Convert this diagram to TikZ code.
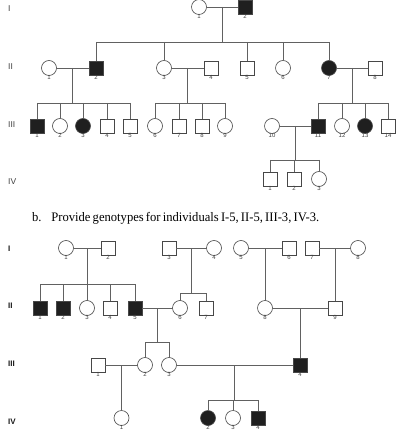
\documentclass[tikz,border=0pt]{standalone}
\usepackage{fontspec}
\setmainfont{Liberation Serif}
\setsansfont{Liberation Sans}
\usetikzlibrary{calc}

\begin{document}
\begin{tikzpicture}[
  x=1pt,y=-1pt,
  every label/.style={
    font=\sffamily\fontsize{6}{6}\selectfont,
    text=black!75,
    inner sep=0pt
  },
  person/.style={
    draw=black!72,
    line width=0.6pt,
    inner sep=0pt,
    outer sep=0pt,
    label distance=2pt
  },
  male/.style={
    person,
    rectangle,
    minimum size=14pt
  },
  female/.style={
    person,
    circle,
    minimum size=15pt
  },
  affected/.style={
    fill=black!88
  },
  family line/.style={
    draw=black!62,
    line width=0.6pt
  },
  generation/.style={
    anchor=west,
    inner sep=0pt,
    font=\sffamily\fontsize{8.5}{8.5}\selectfont,
    text=black!75
  },
  bold generation/.style={
    generation,
    font=\sffamily\bfseries\fontsize{8}{8}\selectfont,
    text=black!90
  }
]
\useasboundingbox (0,0) rectangle (403,435);

% ---------- pedigree a ----------
\node[generation] (aGenI) at (8,9) {I};
\node[generation] (aGenII) at (8,67) {II};
\node[generation] (aGenIII) at (8,125) {III};
\node[generation] (aGenIV) at (8,182) {IV};

\node[female,label=below:1] (aI1) at (199,7) {};
\node[male,affected,label=below:2] (aI2) at (245,7) {};

\node[female,label=below:1] (aII1) at (49,68) {};
\node[male,affected,label=below:2] (aII2) at (96,68) {};
\node[female,label=below:3] (aII3) at (164,68) {};
\node[male,label=below:4] (aII4) at (211,68) {};
\node[male,label=below:5] (aII5) at (247,68) {};
\node[female,label=below:6] (aII6) at (283,68) {};
\node[female,affected,label=below:7] (aII7) at (329,68) {};
\node[male,label=below:8] (aII8) at (375,68) {};

\node[male,affected,label=below:1] (aIII1) at (37,126) {};
\node[female,label=below:2] (aIII2) at (60,126) {};
\node[female,affected,label=below:3] (aIII3) at (83,126) {};
\node[male,label=below:4] (aIII4) at (107,126) {};
\node[male,label=below:5] (aIII5) at (130,126) {};
\node[female,label=below:6] (aIII6) at (155,126) {};
\node[male,label=below:7] (aIII7) at (179,126) {};
\node[male,label=below:8] (aIII8) at (202,126) {};
\node[female,label=below:9] (aIII9) at (225,126) {};
\node[female,label=below:10] (aIII10) at (272,126) {};
\node[male,affected,label=below:11] (aIII11) at (318,126) {};
\node[female,label=below:12] (aIII12) at (342,126) {};
\node[female,affected,label=below:13] (aIII13) at (365,126) {};
\node[male,label=below:14] (aIII14) at (388,126) {};

\node[male,label=below:1] (aIV1) at (270,179) {};
\node[male,label=below:2] (aIV2) at (294,179) {};
\node[female,label=below:3] (aIV3) at (319,179) {};

% matings and sibships
\draw[family line] (aI1) -- (aI2);
\coordinate (aM1) at ($(aI1)!0.5!(aI2)$);
\coordinate (aS1) at ($(aM1)+(0,35)$);
\draw[family line] (aM1) -- (aS1);
\draw[family line] (aII2 |- aS1) -- (aII7 |- aS1);
\foreach \kid in {aII2,aII3,aII5,aII6,aII7}
  \draw[family line] (\kid |- aS1) -- (\kid);

\draw[family line] (aII1) -- (aII2);
\coordinate (aM2) at ($(aII1)!0.5!(aII2)$);
\coordinate (aS2) at ($(aM2)+(0,35)$);
\draw[family line] (aM2) -- (aS2);
\draw[family line] (aIII1 |- aS2) -- (aIII5 |- aS2);
\foreach \kid in {aIII1,aIII2,aIII3,aIII4,aIII5}
  \draw[family line] (\kid |- aS2) -- (\kid);

\draw[family line] (aII3) -- (aII4);
\coordinate (aM3) at ($(aII3)!0.5!(aII4)$);
\coordinate (aS3) at ($(aM3)+(0,35)$);
\draw[family line] (aM3) -- (aS3);
\draw[family line] (aIII6 |- aS3) -- (aIII9 |- aS3);
\foreach \kid in {aIII6,aIII7,aIII8,aIII9}
  \draw[family line] (\kid |- aS3) -- (\kid);

\draw[family line] (aII7) -- (aII8);
\coordinate (aM4) at ($(aII7)!0.5!(aII8)$);
\coordinate (aS4) at ($(aM4)+(0,35)$);
\draw[family line] (aM4) -- (aS4);
\draw[family line] (aIII11 |- aS4) -- (aIII14 |- aS4);
\foreach \kid in {aIII11,aIII12,aIII13,aIII14}
  \draw[family line] (\kid |- aS4) -- (\kid);

\draw[family line] (aIII10) -- (aIII11);
\coordinate (aM5) at ($(aIII10)!0.5!(aIII11)$);
\coordinate (aS5) at ($(aM5)+(0,34)$);
\draw[family line] (aM5) -- (aS5);
\draw[family line] (aIV1 |- aS5) -- (aIV3 |- aS5);
\foreach \kid in {aIV1,aIV2,aIV3}
  \draw[family line] (\kid |- aS5) -- (\kid);

% ---------- question ----------
\node[anchor=base west,inner sep=0pt,xscale=0.97,
  font=\fontsize{13}{14}\selectfont] (question) at (32,222)
  {\spaceskip=2.2pt\relax b.\hspace{10pt}Provide genotypes for individuals I-5, II-5, III-3, IV-3.};

% ---------- pedigree b ----------
\node[bold generation] (bGenI) at (8,249) {I};
\node[bold generation] (bGenII) at (8,306) {II};
\node[bold generation] (bGenIII) at (8,364) {III};
\node[bold generation] (bGenIV) at (8,422) {IV};

\node[female,label=below:1] (bI1) at (66,248) {};
\node[male,label=below:2] (bI2) at (108,248) {};
\node[male,label=below:3] (bI3) at (169,248) {};
\node[female,label=below:4] (bI4) at (214,248) {};
\node[female,label=below:5] (bI5) at (241,248) {};
\node[male,label=below:6] (bI6) at (289,248) {};
\node[male,label=below:7] (bI7) at (312,248) {};
\node[female,label=below:8] (bI8) at (358,248) {};

\node[male,affected,label=below:1] (bII1) at (40,308) {};
\node[male,affected,label=below:2] (bII2) at (63,308) {};
\node[female,label=below:3] (bII3) at (87,308) {};
\node[male,label=below:4] (bII4) at (110,308) {};
\node[male,affected,label=below:5] (bII5) at (135,308) {};
\node[female,label=below:6] (bII6) at (180,308) {};
\node[male,label=below:7] (bII7) at (206,308) {};
\node[female,label=below:8] (bII8) at (265,308) {};
\node[male,label=below:9] (bII9) at (335,308) {};

\node[male,label=below:1] (bIII1) at (98,365) {};
\node[female,label=below:2] (bIII2) at (145,365) {};
\node[female,label=below:3] (bIII3) at (169,365) {};
\node[male,affected,label=below:4] (bIII4) at (300,365) {};

\node[female,label=below:1] (bIV1) at (121.5,418) {};
\node[female,affected,label=below:2] (bIV2) at (208,418) {};
\node[female,label=below:3] (bIV3) at (233,418) {};
\node[male,affected,label=below:4] (bIV4) at (258,418) {};

% matings and sibships
\draw[family line] (bI1) -- (bI2);
\coordinate (bM1) at ($(bI1)!0.5!(bI2)$);
\coordinate (bS1) at ($(bM1)+(0,36)$);
\draw[family line] (bM1) -- (bS1);
\draw[family line] (bII1 |- bS1) -- (bII5 |- bS1);
\foreach \kid in {bII1,bII2,bII3,bII4,bII5}
  \draw[family line] (\kid |- bS1) -- (\kid);

\draw[family line] (bI3) -- (bI4);
\coordinate (bM2) at ($(bI3)!0.5!(bI4)$);
\coordinate (bS2) at ($(bM2)+(0,45)$);
\draw[family line] (bM2) -- (bS2);
\draw[family line] (bII6 |- bS2) -- (bII7 |- bS2);
\foreach \kid in {bII6,bII7}
  \draw[family line] (\kid |- bS2) -- (\kid);

\draw[family line] (bI5) -- (bI6);
\coordinate (bM3) at ($(bI5)!0.5!(bI6)$);
\draw[family line] (bM3) -- (bII8);

\draw[family line] (bI7) -- (bI8);
\coordinate (bM4) at ($(bI7)!0.5!(bI8)$);
\draw[family line] (bM4) -- (bII9);

\draw[family line] (bII5) -- (bII6);
\coordinate (bM5) at ($(bII5)!0.5!(bII6)$);
\coordinate (bS5) at ($(bM5)+(0,34)$);
\draw[family line] (bM5) -- (bS5);
\draw[family line] (bIII2 |- bS5) -- (bIII3 |- bS5);
\foreach \kid in {bIII2,bIII3}
  \draw[family line] (\kid |- bS5) -- (\kid);

\draw[family line] (bII8) -- (bII9);
\coordinate (bM6) at ($(bII8)!0.5!(bII9)$);
\draw[family line] (bM6) -- (bIII4);

\draw[family line] (bIII1) -- (bIII2);
\coordinate (bM7) at ($(bIII1)!0.5!(bIII2)$);
\draw[family line] (bM7) -- (bIV1);

\draw[family line] (bIII3) -- (bIII4);
\coordinate (bM8) at ($(bIII3)!0.5!(bIII4)$);
\coordinate (bS8) at ($(bM8)+(0,35)$);
\draw[family line] (bM8) -- (bS8);
\draw[family line] (bIV2 |- bS8) -- (bIV4 |- bS8);
\foreach \kid in {bIV2,bIV3,bIV4}
  \draw[family line] (\kid |- bS8) -- (\kid);

\end{tikzpicture}
\end{document}
